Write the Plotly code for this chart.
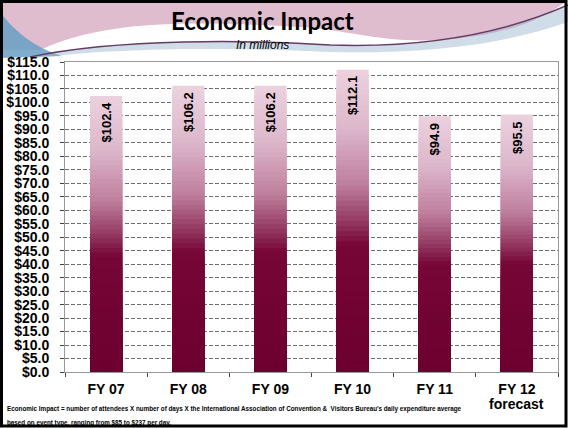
import plotly.graph_objects as go

categories = ["FY 07", "FY 08", "FY 09", "FY 10", "FY 11", "FY 12"]
category_notes = ["", "", "", "", "", "forecast"]
values = [102.4, 106.2, 106.2, 112.1, 94.9, 95.5]
value_labels = ["$102.4", "$106.2", "$106.2", "$112.1", "$94.9", "$95.5"]

title_text = "Economic Impact"
subtitle_text = "In millions"
footnote_1 = ("Economic Impact = number of attendees X number of days X the International Association "
              "of Convention &  Visitors Bureau's daily expenditure average")
footnote_2 = "based on event type, ranging from $85 to $237 per day."

W, H = 568, 428
ML, MR, MT, MB = 65, 10, 62, 56
PW, PH = W - ML - MR, H - MT - MB


def X(px):
    return (px - ML) / PW


def Y(py):
    return (H - MB - py) / PH


def path(cmds):
    out = []
    for letter, pts in cmds:
        coords = []
        for i in range(0, len(pts), 2):
            coords.append("%.5f,%.5f" % (X(pts[i]), Y(pts[i + 1])))
        out.append(letter + " ".join(coords))
    return " ".join(out)


# gradient stops: (fraction of bar height from bottom, rgb)
stops = [(0.0, (108, 0, 46)), (0.42, (118, 6, 54)), (0.5, (148, 58, 98)),
         (0.62, (190, 126, 156)), (0.8, (220, 182, 202)), (1.0, (236, 210, 223))]


def color_at(f):
    for (f0, c0), (f1, c1) in zip(stops[:-1], stops[1:]):
        if f0 <= f <= f1:
            t = (f - f0) / (f1 - f0) if f1 > f0 else 0
            return "rgb(%d,%d,%d)" % tuple(round(a + (b - a) * t) for a, b in zip(c0, c1))
    return "rgb(%d,%d,%d)" % stops[-1][1]


fig = go.Figure()
N = 60
for k in range(N, 0, -1):
    frac = k / N
    fig.add_trace(go.Bar(
        x=categories, y=[v * frac for v in values],
        marker=dict(color=color_at(frac - 0.5 / N), line=dict(width=0)),
        width=0.39, hoverinfo="skip", showlegend=False))

annotations = []
for c, v, lab in zip(categories, values, value_labels):
    annotations.append(dict(x=c, y=v, xref="x", yref="y", text="<b>%s</b>" % lab,
                            textangle=-90, showarrow=False, yanchor="top", yshift=-4,
                            font=dict(family="Arial", size=13, color="black")))
for c, note in zip(categories, category_notes):
    if note:
        annotations.append(dict(x=c, y=Y(404), xref="x", yref="paper", text="<b>%s</b>" % note,
                                showarrow=False, xanchor="center", yanchor="middle",
                                font=dict(family="Arial", size=14, color="black")))

annotations += [
    dict(x=X(262), y=Y(21), xref="paper", yref="paper", text="<b>%s</b>" % title_text,
         showarrow=False, xanchor="center", yanchor="middle",
         font=dict(family="Lato", size=24, color="black")),
    dict(x=X(262), y=Y(45), xref="paper", yref="paper", text="<i>%s</i>" % subtitle_text,
         showarrow=False, xanchor="center", yanchor="middle",
         font=dict(family="Arial", size=12, color="black")),
    dict(x=X(5), y=Y(409), xref="paper", yref="paper", text="<b>%s</b>" % footnote_1,
         showarrow=False, xanchor="left", yanchor="middle",
         font=dict(family="Arial", size=6.3, color="black")),
    dict(x=X(5), y=Y(423), xref="paper", yref="paper", text="<b>%s</b>" % footnote_2,
         showarrow=False, xanchor="left", yanchor="middle",
         font=dict(family="Arial", size=6.3, color="black")),
]

shapes = [
    dict(type="path", xref="paper", yref="paper", layer="below", line=dict(width=0),
         fillcolor="rgba(212,165,190,0.75)",
         path=path([("M", [0, 0]), ("L", [568, 0, 568, 8]),
                    ("C", [540, 22, 500, 36, 440, 40]),
                    ("C", [380, 43, 350, 30, 300, 27]),
                    ("C", [200, 22, 110, 18, 40, 50]),
                    ("L", [0, 50]), ("Z", [])])),
    dict(type="path", xref="paper", yref="paper", layer="below", line=dict(width=0),
         fillcolor="rgba(105,160,195,0.85)",
         path=path([("M", [0, 12]), ("C", [15, 32, 35, 48, 62, 56]),
                    ("L", [0, 58]), ("Z", [])])),
    dict(type="path", xref="paper", yref="paper", layer="below", line=dict(width=0),
         fillcolor="rgba(150,180,205,0.45)",
         path=path([("M", [30, 57]), ("C", [120, 38, 250, 40, 330, 45]),
                    ("C", [420, 48, 500, 35, 568, 5]),
                    ("L", [568, 22]), ("C", [500, 46, 420, 54, 330, 52]),
                    ("C", [250, 48, 120, 46, 30, 59]), ("Z", [])])),
    dict(type="path", xref="paper", yref="paper", layer="below",
         line=dict(width=1.5, color="rgb(100,60,100)"),
         path=path([("M", [30, 57]), ("C", [120, 38, 250, 40, 330, 45]),
                    ("C", [420, 48, 500, 35, 568, 5])])),
    dict(type="rect", xref="paper", yref="paper", layer="above",
         x0=X(1.5), x1=X(566), y0=Y(1.5), y1=Y(426),
         line=dict(width=3, color="black"), fillcolor="rgba(0,0,0,0)"),
]

fig.update_layout(
    width=W, height=H, margin=dict(l=ML, r=MR, t=MT, b=MB, pad=0),
    paper_bgcolor="white", plot_bgcolor="white",
    barmode="overlay", bargap=0.6,
    annotations=annotations, shapes=shapes, showlegend=False,
)
fig.update_yaxes(range=[0, 115], dtick=5, tickprefix="$", tickformat=".1f",
                 showgrid=True, gridcolor="#707070", griddash="4px,2px", gridwidth=1,
                 ticks="outside", ticklen=4, tickcolor="#444",
                 showline=True, linecolor="#999", mirror=True, zeroline=False,
                 automargin=False, ticklabelstandoff=8,
                 tickfont=dict(family="Arial", size=14, color="black", weight="bold"))
fig.update_xaxes(showgrid=False, ticks="outside", tickson="boundaries", ticklen=4,
                 tickcolor="#444", showline=True, linecolor="#999", mirror=True,
                 automargin=False, ticklabelstandoff=4,
                 tickfont=dict(family="Arial", size=14, color="black", weight="bold"))

fig.write_html("out.html")
